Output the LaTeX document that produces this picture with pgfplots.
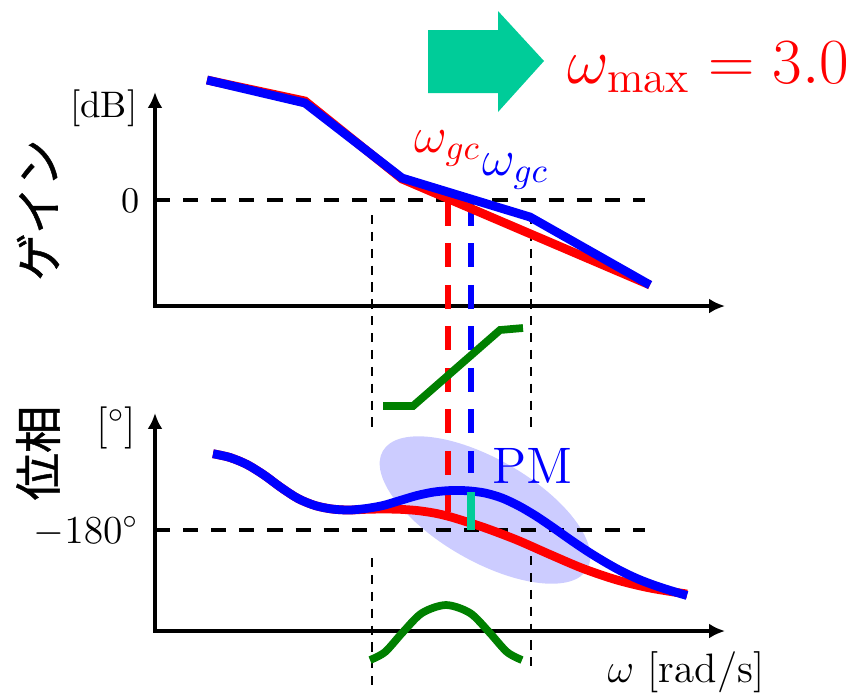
\documentclass[border=0pt]{standalone}
\usepackage{fontspec}
\usepackage{pgfplots}
\pgfplotsset{compat=1.18}
\usetikzlibrary{arrows.meta}
\newfontfamily\jp{Noto Sans CJK JP}[FakeBold=1]
\definecolor{teal2}{RGB}{0,204,153}
\definecolor{dgreen}{RGB}{0,128,0}
\definecolor{ell}{RGB}{204,204,255}
\begin{document}
\begin{tikzpicture}
\begin{axis}[width=85.5mm,height=69.2mm,scale only axis,
  xmin=0,xmax=855,ymin=0,ymax=692,y dir=reverse,hide axis,clip=false]
\path (axis cs:0,0) rectangle (axis cs:855,692);
% ellipse
\fill[ell, rotate around={-30:(axis cs:485,510)}] (axis cs:485,510) ellipse [x radius=11.8mm, y radius=5.1mm];
% thin dashed guides
\draw[black, line width=0.6pt, dash pattern=on 2.6pt off 2.2pt] (axis cs:372,215)--(axis cs:372,432);
\draw[black, line width=0.6pt, dash pattern=on 2.6pt off 2.2pt] (axis cs:531,215)--(axis cs:531,430);
\draw[black, line width=0.6pt, dash pattern=on 2.6pt off 2.2pt] (axis cs:372,558)--(axis cs:372,692);
\draw[black, line width=0.6pt, dash pattern=on 2.6pt off 2.2pt] (axis cs:531,556)--(axis cs:531,669);
% reference lines
\draw[black, line width=1pt, dash pattern=on 4.3pt off 3.7pt] (axis cs:155,200)--(axis cs:645,200);
\draw[black, line width=1pt, dash pattern=on 4.3pt off 3.7pt] (axis cs:155,530)--(axis cs:645,530);
% axes
\draw[black, line width=1pt, {Latex[length=4.5pt,width=4.2pt]}-{Latex[length=4.5pt,width=4.2pt]}] (axis cs:155,92)--(axis cs:155,306)--(axis cs:725,306);
\draw[black, line width=1pt, {Latex[length=4.5pt,width=4.2pt]}-{Latex[length=4.5pt,width=4.2pt]}] (axis cs:155,413)--(axis cs:155,631)--(axis cs:725,631);
% crossover dashed
\draw[red, line width=1.7pt, dash pattern=on 6.8pt off 5pt] (axis cs:448,202)--(axis cs:448,512);
\draw[blue, line width=1.7pt, dash pattern=on 6.8pt off 5pt] (axis cs:471,202)--(axis cs:471,473);
% gain curves
\addplot[red, line width=2.5pt] coordinates {(207,80) (305,101) (402,179) (650,285)};
\addplot[blue, line width=2.5pt] coordinates {(207,80) (305,103) (402,178) (530,217) (650,285)};
% phase curves
\addplot[red, line width=2.5pt, smooth] coordinates {(213,453.7) (230,457.5) (247,464.5) (264,475) (281,487.5) (298,498.5) (315,505.5) (332,509) (349,510) (366,509.3) (383,509) (400,509.3) (417,510.5) (434,513) (451,517) (484,527.5) (517,540) (550,554.5) (583,568.5) (617,580) (650,588) (687,594)};
\addplot[blue, line width=2.5pt, smooth] coordinates {(213,453.7) (230,457.5) (247,464.5) (264,475) (281,487.5) (298,498.5) (315,505.5) (332,509) (349,510) (366,508.5) (383,505.5) (400,500.5) (417,495.5) (434,492) (451,490.5) (468,490.8) (485,493) (502,498) (519,506) (536,516) (553,527.5) (570,539.5) (587,551) (604,561.5) (621,571) (638,579) (655,585.5) (672,591) (687,595.5)};
% compensator
\addplot[dgreen, line width=2.2pt] coordinates {(383,406) (413,406) (500,330) (523,328)};
\addplot[dgreen, line width=2.2pt, smooth] coordinates {(370,660) (385,652) (403,632) (422,613) (446,605) (470,613) (489,632) (507,652) (522,660)};
% PM bar
\draw[teal2, line width=2.5pt] (axis cs:471,492)--(axis cs:471,530);
% big arrow
\fill[teal2] (axis cs:428,30)--(axis cs:498,30)--(axis cs:498,11)--(axis cs:544,61)--(axis cs:498,112)--(axis cs:498,93)--(axis cs:428,93)--cycle;
% texts
\node[rotate=90, font=\jp\fontsize{13.5}{14}\selectfont] at (axis cs:38,210) {ゲイン};
\node[rotate=90, font=\jp\fontsize{13.5}{14}\selectfont] at (axis cs:38,453) {位相};
\node[font=\fontsize{10.5}{12}\selectfont, anchor=base east, inner sep=0pt] at (axis cs:138,117) {[dB]};
\node[font=\fontsize{10}{12}\selectfont, anchor=base east, inner sep=0pt, scale=1.03] at (axis cs:140,212) {$0$};
\node[font=\fontsize{12}{13}\selectfont, anchor=base east, inner sep=0pt] at (axis cs:137,438) {[$^\circ$]};
\node[font=\fontsize{12}{13}\selectfont, anchor=base east, inner sep=0pt, scale=0.94] at (axis cs:139,543) {$-180^\circ$};
\node[font=\fontsize{14.6}{16}\selectfont, text=blue, anchor=base west, inner sep=0pt] at (axis cs:492,483) {PM};
\node[font=\Large, text=red, anchor=base west, inner sep=0pt] at (axis cs:414,152) {$\omega_{gc}$};
\node[font=\Large, text=blue, anchor=base west, inner sep=0pt] at (axis cs:482,175) {$\omega_{gc}$};
\node[font=\LARGE, text=red, anchor=base west, inner sep=0pt, scale=1.06] at (axis cs:567,83) {$\omega_{\max} = 3.0$};
\node[font=\fontsize{12}{13}\selectfont, anchor=base west, inner sep=0pt, scale=0.975] at (axis cs:607,682) {$\omega$ [rad/s]};
\end{axis}
\end{tikzpicture}
\end{document}
